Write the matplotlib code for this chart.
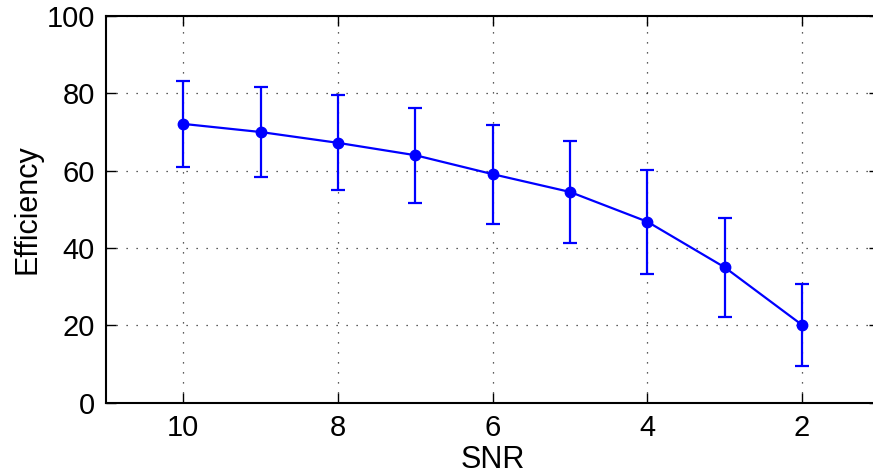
import numpy as np
import matplotlib
matplotlib.use("Agg")
import matplotlib.pyplot as plt

plt.rcParams['font.family'] = ['Liberation Sans', 'DejaVu Sans']

# données
snr = [10, 9, 8, 7, 6, 5, 4, 3, 2]
efficiency = [72.1, 70.0, 67.2, 64.0, 59.1, 54.5, 46.8, 35.0, 20.1]
err = [11.2, 11.6, 12.3, 12.3, 12.8, 13.3, 13.4, 12.8, 10.5]
xticks = [10, 8, 6, 4, 2]
yticks = [0, 20, 40, 60, 80, 100]

fig = plt.figure(figsize=(8.73, 4.74), dpi=100)
# l'axe déborde à droite (figure d'origine rognée)
ax = fig.add_axes([0.1214, 0.1504, 0.886, 0.8158])

ax.errorbar(snr, efficiency, yerr=err, color=(0, 0, 1), lw=1.6,
            elinewidth=1.6, capsize=5, capthick=1.6,
            marker='o', markersize=7.5)

ax.set_xlim(11, 1)
ax.set_ylim(0, 100)
ax.set_xticks(xticks)
ax.set_yticks(yticks)
ax.grid(True, color='0.15', linestyle=(0, (1, 7)), linewidth=0.9)
ax.tick_params(direction='in', length=7, width=1, top=True, right=True,
               labelsize=21, pad=8)
for s in ax.spines.values():
    s.set_linewidth(1.5)

ax.set_xlabel('SNR', fontsize=22, labelpad=2)
ax.set_ylabel('Efficiency', fontsize=22, labelpad=3)

fig.savefig('out.png', dpi=100)
